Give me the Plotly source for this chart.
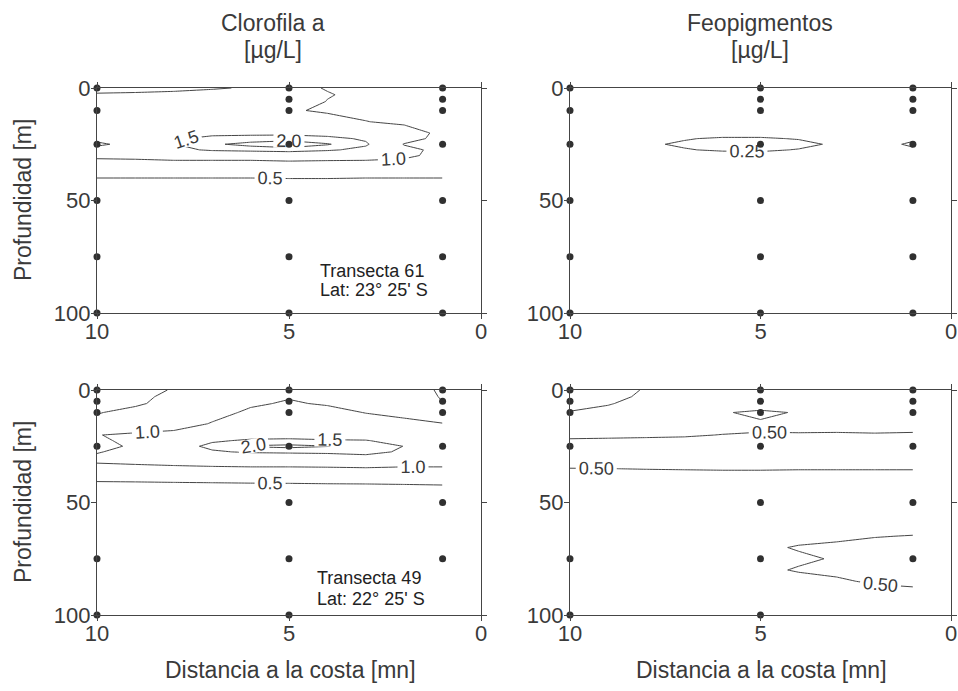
import plotly.graph_objects as go

# ---------------- data ----------------
# distance-to-coast grid (mn) used for the estimated fields
X_GRID = [1, 2, 3, 4, 5, 6, 7, 8, 9, 10]
# depth grids (m)
DEPTH_A = [0, 3, 6, 10, 15, 20, 22.5, 25, 27.5, 30, 35, 45, 50, 75, 100]
DEPTH_B = [0, 3, 6, 10, 15, 20, 25, 30, 35, 40, 50, 60, 65, 70, 75, 80, 85, 90, 100]

# Clorofila a, Transecta 61 (ug/L), rows = DEPTH_A, cols = X_GRID
CHL_61 = [
    [0.80, 0.85, 0.90, 0.98, 1.10, 1.05, 0.95, 0.90, 0.90, 0.90],
    [0.80, 0.85, 0.92, 1.02, 1.15, 1.20, 1.20, 1.10, 1.05, 1.03],
    [0.80, 0.85, 0.90, 0.99, 1.20, 1.25, 1.25, 1.20, 1.15, 1.10],
    [0.82, 0.86, 0.90, 0.95, 1.04, 1.30, 1.30, 1.30, 1.25, 1.20],
    [0.85, 0.92, 1.01, 1.15, 1.30, 1.35, 1.35, 1.30, 1.30, 1.25],
    [0.90, 1.20, 1.30, 1.35, 1.40, 1.40, 1.40, 1.35, 1.30, 1.30],
    [0.88, 1.15, 1.45, 1.60, 1.68, 1.65, 1.60, 1.45, 1.30, 1.35],
    [0.85, 0.98, 1.55, 2.05, 2.50, 2.20, 1.90, 1.48, 1.30, 1.60],
    [0.90, 1.10, 1.40, 1.55, 1.65, 1.60, 1.55, 1.40, 1.25, 1.30],
    [0.88, 1.08, 1.15, 1.15, 1.18, 1.15, 1.15, 1.15, 1.10, 1.08],
    [0.80, 0.80, 0.80, 0.82, 0.82, 0.80, 0.80, 0.80, 0.80, 0.80],
    [0.20, 0.20, 0.20, 0.21, 0.21, 0.20, 0.20, 0.20, 0.20, 0.20],
    [0.15, 0.15, 0.15, 0.15, 0.15, 0.15, 0.15, 0.15, 0.15, 0.15],
    [0.10, 0.10, 0.10, 0.10, 0.10, 0.10, 0.10, 0.10, 0.10, 0.10],
    [0.05, 0.05, 0.05, 0.05, 0.05, 0.05, 0.05, 0.05, 0.05, 0.05],
]

# Feopigmentos, Transecta 61 (ug/L), rows = DEPTH_A
FEO_61 = [
    [0.15, 0.15, 0.16, 0.16, 0.17, 0.17, 0.16, 0.15, 0.15, 0.14],
    [0.15, 0.15, 0.16, 0.17, 0.17, 0.17, 0.16, 0.16, 0.15, 0.14],
    [0.16, 0.15, 0.16, 0.17, 0.18, 0.18, 0.17, 0.16, 0.15, 0.15],
    [0.16, 0.15, 0.16, 0.17, 0.18, 0.18, 0.17, 0.16, 0.15, 0.15],
    [0.17, 0.14, 0.16, 0.17, 0.18, 0.18, 0.17, 0.16, 0.15, 0.15],
    [0.18, 0.14, 0.16, 0.17, 0.18, 0.18, 0.17, 0.16, 0.15, 0.15],
    [0.20, 0.14, 0.18, 0.24, 0.27, 0.27, 0.24, 0.20, 0.17, 0.15],
    [0.30, 0.13, 0.22, 0.30, 0.33, 0.32, 0.27, 0.23, 0.18, 0.15],
    [0.20, 0.14, 0.18, 0.24, 0.28, 0.27, 0.24, 0.20, 0.17, 0.15],
    [0.18, 0.14, 0.16, 0.17, 0.18, 0.18, 0.17, 0.16, 0.15, 0.15],
    [0.16, 0.14, 0.15, 0.16, 0.16, 0.16, 0.15, 0.15, 0.14, 0.14],
    [0.13, 0.13, 0.13, 0.13, 0.13, 0.13, 0.13, 0.13, 0.13, 0.13],
    [0.12, 0.12, 0.12, 0.12, 0.12, 0.12, 0.12, 0.12, 0.12, 0.12],
    [0.09, 0.09, 0.09, 0.09, 0.09, 0.09, 0.09, 0.09, 0.09, 0.09],
    [0.07, 0.07, 0.07, 0.07, 0.07, 0.07, 0.07, 0.07, 0.07, 0.07],
]

# Clorofila a, Transecta 49 (ug/L), rows = DEPTH_A
CHL_49 = [
    [0.40, 0.85, 0.90, 0.92, 0.95, 0.90, 0.80, 0.52, 0.40, 0.30],
    [0.45, 0.88, 0.92, 0.95, 0.98, 0.94, 0.85, 0.58, 0.42, 0.33],
    [0.52, 0.90, 0.94, 0.97, 1.03, 0.96, 0.90, 0.62, 0.45, 0.40],
    [0.65, 0.90, 0.99, 1.10, 1.15, 1.05, 0.90, 0.75, 0.60, 0.48],
    [1.02, 1.10, 1.15, 1.20, 1.25, 1.20, 1.02, 0.85, 0.75, 0.60],
    [1.10, 1.25, 1.30, 1.35, 1.40, 1.35, 1.25, 1.10, 1.06, 0.99],
    [1.15, 1.35, 1.52, 1.53, 1.55, 1.55, 1.45, 1.25, 1.10, 0.93],
    [1.20, 1.49, 1.75, 2.02, 2.15, 2.05, 1.60, 1.30, 1.05, 0.90],
    [1.20, 1.45, 1.60, 1.60, 1.58, 1.55, 1.45, 1.25, 1.10, 0.98],
    [1.15, 1.20, 1.40, 1.25, 1.20, 1.20, 1.15, 1.10, 1.08, 1.05],
    [0.97, 0.96, 0.96, 0.96, 0.96, 0.96, 0.96, 0.96, 0.95, 0.95],
    [0.32, 0.30, 0.28, 0.27, 0.25, 0.24, 0.22, 0.20, 0.18, 0.16],
    [0.20, 0.19, 0.18, 0.17, 0.16, 0.15, 0.14, 0.13, 0.12, 0.12],
    [0.08, 0.08, 0.08, 0.08, 0.08, 0.08, 0.08, 0.08, 0.08, 0.08],
    [0.05, 0.05, 0.05, 0.05, 0.05, 0.05, 0.05, 0.05, 0.05, 0.05],
]

# Feopigmentos, Transecta 49 (ug/L), rows = DEPTH_B
FEO_49 = [
    [0.35, 0.35, 0.36, 0.37, 0.38, 0.38, 0.40, 0.48, 0.60, 0.65],
    [0.36, 0.36, 0.37, 0.38, 0.38, 0.38, 0.39, 0.45, 0.58, 0.62],
    [0.37, 0.37, 0.38, 0.38, 0.35, 0.38, 0.38, 0.40, 0.52, 0.56],
    [0.38, 0.38, 0.39, 0.48, 0.55, 0.48, 0.40, 0.38, 0.42, 0.49],
    [0.40, 0.40, 0.40, 0.42, 0.47, 0.42, 0.40, 0.40, 0.40, 0.40],
    [0.53, 0.52, 0.53, 0.52, 0.51, 0.505, 0.48, 0.47, 0.46, 0.45],
    [0.60, 0.60, 0.60, 0.60, 0.60, 0.60, 0.60, 0.60, 0.60, 0.60],
    [0.62, 0.62, 0.62, 0.62, 0.62, 0.62, 0.61, 0.60, 0.60, 0.60],
    [0.51, 0.51, 0.51, 0.51, 0.515, 0.515, 0.51, 0.505, 0.498, 0.495],
    [0.40, 0.40, 0.40, 0.40, 0.40, 0.40, 0.40, 0.40, 0.40, 0.40],
    [0.35, 0.35, 0.34, 0.34, 0.33, 0.33, 0.33, 0.32, 0.32, 0.32],
    [0.40, 0.39, 0.38, 0.37, 0.36, 0.35, 0.35, 0.34, 0.34, 0.33],
    [0.51, 0.49, 0.45, 0.42, 0.40, 0.38, 0.37, 0.36, 0.35, 0.35],
    [0.60, 0.58, 0.55, 0.52, 0.45, 0.40, 0.38, 0.37, 0.36, 0.36],
    [0.62, 0.60, 0.52, 0.46, 0.43, 0.40, 0.38, 0.37, 0.36, 0.36],
    [0.62, 0.60, 0.55, 0.52, 0.45, 0.40, 0.38, 0.37, 0.36, 0.36],
    [0.55, 0.53, 0.47, 0.42, 0.40, 0.38, 0.37, 0.36, 0.36, 0.35],
    [0.45, 0.42, 0.40, 0.39, 0.38, 0.37, 0.36, 0.35, 0.35, 0.35],
    [0.40, 0.39, 0.38, 0.37, 0.36, 0.36, 0.35, 0.35, 0.34, 0.34],
]

# sampling stations: distance (mn) and depths (m)
STATION_DIST = [10, 5, 1]
STATION_DEPTHS_61 = [
    [0, 10, 25, 50, 75, 100],
    [0, 5, 10, 25, 50, 75, 100],
    [0, 5, 10, 25, 50, 75, 100],
]
STATION_DEPTHS_49 = [
    [0, 5, 10, 25, 75, 100],
    [0, 5, 10, 25, 50, 75, 100],
    [0, 5, 10, 25, 50, 75],
]

X_TICKS = [10, 5, 0]
Y_TICKS = [0, 50, 100]

TITLE_CHL = "Clorofila a"
TITLE_FEO = "Feopigmentos"
UNIT = "[µg/L]"
Y_TITLE = "Profundidad [m]"
X_TITLE = "Distancia a la costa [mn]"
TRANSECT_61 = ["Transecta 61", "Lat: 23° 25' S"]
TRANSECT_49 = ["Transecta 49", "Lat: 22° 25' S"]

# ---------------- figure ----------------
W, H = 958, 691
FONT = "Arial, Liberation Sans, Helvetica, sans-serif"
TXT = "#3a3a3a"
LINE = "#454545"

fig = go.Figure()

panels = [
    dict(z=CHL_61, depth=DEPTH_A, lv=(0.5, 2.0, 0.5), fmt=".1f", st=STATION_DEPTHS_61, ax=""),
    dict(z=FEO_61, depth=DEPTH_A, lv=(0.25, 0.25, 0.25), fmt=".2f", st=STATION_DEPTHS_61, ax="2"),
    dict(z=CHL_49, depth=DEPTH_A, lv=(0.5, 2.0, 0.5), fmt=".1f", st=STATION_DEPTHS_49, ax="3"),
    dict(z=FEO_49, depth=DEPTH_B, lv=(0.5, 0.5, 0.5), fmt=".2f", st=STATION_DEPTHS_49, ax="4"),
]

for p in panels:
    xa, ya = "x" + p["ax"], "y" + p["ax"]
    fig.add_trace(go.Contour(
        x=X_GRID, y=p["depth"], z=p["z"],
        autocontour=False,
        contours=dict(start=p["lv"][0], end=p["lv"][1], size=p["lv"][2],
                      coloring="none", showlabels=True,
                      labelfont=dict(size=18, color=TXT, family=FONT),
                      labelformat=p["fmt"]),
        line=dict(color=LINE, width=1, smoothing=0),
        showscale=False, hoverinfo="skip",
        xaxis=xa, yaxis=ya,
    ))
    sx, sy = [], []
    for d, deps in zip(STATION_DIST, p["st"]):
        sx += [d] * len(deps)
        sy += deps
    fig.add_trace(go.Scatter(
        x=sx, y=sy, mode="markers",
        marker=dict(size=7, color="#303030"),
        cliponaxis=False, hoverinfo="skip", showlegend=False,
        xaxis=xa, yaxis=ya,
    ))

def px_x(v):
    return v / W

def px_y(v):
    return 1 - v / H

LEFT = [px_x(97), px_x(481)]
RIGHT = [px_x(570), px_x(951)]
TOP = [px_y(313), px_y(88)]
BOTTOM = [px_y(615), px_y(390)]

axis_common = dict(
    showgrid=False, zeroline=False, showline=True, linecolor=LINE, linewidth=1.2,
    mirror="ticks", ticks="outside", ticklen=5, tickcolor=LINE, tickwidth=1,
    tickfont=dict(size=22, color=TXT, family=FONT),
    ticklabeloverflow="allow",
)

layout_axes = {}
for suffix, xd, yd in [("", LEFT, TOP), ("2", RIGHT, TOP), ("3", LEFT, BOTTOM), ("4", RIGHT, BOTTOM)]:
    layout_axes["xaxis" + suffix] = dict(domain=xd, range=[10, 0], tickvals=X_TICKS,
                                         anchor="y" + suffix, ticklabelstandoff=-7,
                                         **axis_common)
    layout_axes["yaxis" + suffix] = dict(domain=yd, range=[100, 0], tickvals=Y_TICKS,
                                         anchor="x" + suffix, ticklabelstandoff=-4,
                                         **axis_common)

fig.update_layout(
    width=W, height=H,
    margin=dict(l=0, r=0, t=0, b=0, autoexpand=False),
    paper_bgcolor="white", plot_bgcolor="white",
    showlegend=False,
    font=dict(family=FONT, color=TXT),
    **layout_axes,
)

def ann(text, x, y, size, xanchor="center", color=TXT, **kw):
    fig.add_annotation(text=text, x=x, y=y, xref="paper", yref="paper",
                       xanchor=xanchor, yanchor="middle",
                       showarrow=False, font=dict(size=size, color=color, family=FONT), **kw)

# column titles
ann(TITLE_CHL, px_x(273), px_y(23), 23)
ann(UNIT, px_x(273), px_y(50), 23)
ann(TITLE_FEO, px_x(760), px_y(23), 23)
ann(UNIT, px_x(760), px_y(50), 23)

# y titles
ann(Y_TITLE, px_x(23), px_y(200), 23, textangle=-90)
ann(Y_TITLE, px_x(23), px_y(502), 23, textangle=-90)

# x titles
ann(X_TITLE, px_x(290), px_y(670), 23)
ann(X_TITLE, px_x(761), px_y(670), 23)

# transect labels
ann(TRANSECT_61[0], px_x(318), px_y(271), 18, xanchor="left", color="#222222")
ann(TRANSECT_61[1], px_x(318), px_y(290), 18, xanchor="left", color="#222222")
ann(TRANSECT_49[0], px_x(315), px_y(578), 18, xanchor="left", color="#222222")
ann(TRANSECT_49[1], px_x(315), px_y(599), 18, xanchor="left", color="#222222")

fig.write_html(
    "out.html",
    post_script="document.body.style.margin='0';document.body.style.overflow='hidden';",
)
